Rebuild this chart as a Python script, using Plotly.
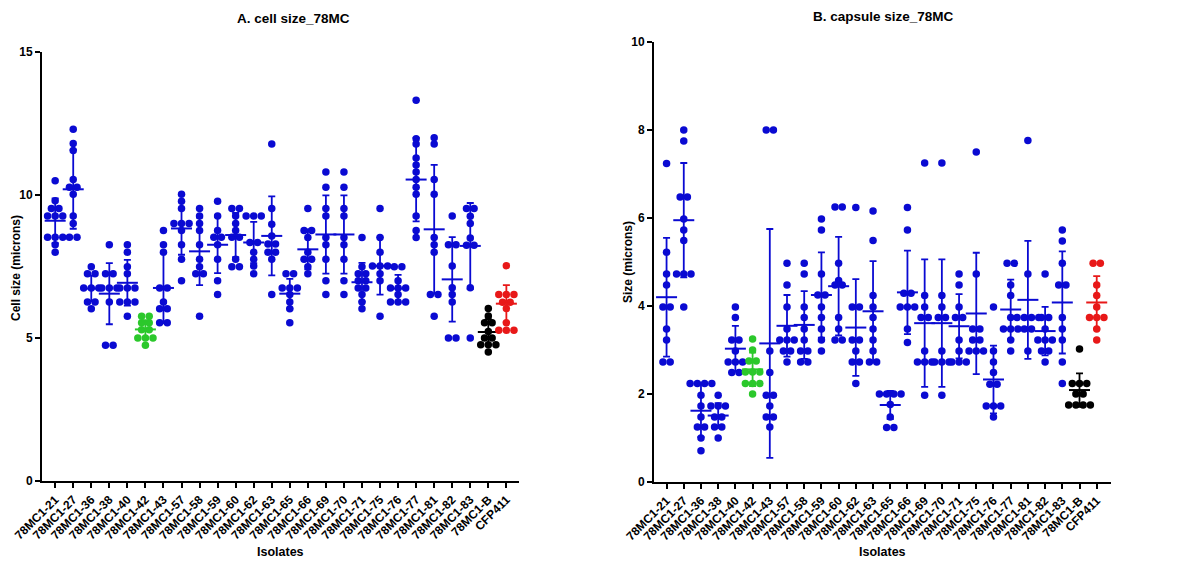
import plotly.graph_objects as go
from collections import Counter

# page is offset by the default 8px body margin
OFF = 8
W, H = 1191 - OFF, 563 - OFF

isolates = ["78MC1-21", "78MC1-27", "78MC1-36", "78MC1-38", "78MC1-40", "78MC1-42",
            "78MC1-43", "78MC1-57", "78MC1-58", "78MC1-59", "78MC1-60", "78MC1-62",
            "78MC1-63", "78MC1-65", "78MC1-66", "78MC1-69", "78MC1-70", "78MC1-71",
            "78MC1-75", "78MC1-76", "78MC1-77", "78MC1-81", "78MC1-82", "78MC1-83",
            "78MC1-B", "CFP411"]

# Panel A: cell size (microns)
cell_values = [
    [10.5, 9.8, 9.53, 9.53, 9.27, 9.27, 9.27, 8.52, 8.52, 8.52, 8.26, 8.0],
    [12.3, 11.8, 11.56, 10.54, 10.27, 10.27, 10.03, 9.27, 9.0, 8.52, 8.52],
    [7.49, 7.25, 7.25, 6.75, 6.75, 6.75, 6.26, 6.26, 6.02],
    [8.26, 7.25, 7.25, 6.75, 6.75, 6.75, 6.26, 4.75, 4.75],
    [8.26, 8.0, 7.49, 7.25, 6.75, 6.75, 6.75, 6.26, 6.26, 6.26, 5.76],
    [5.76, 5.76, 5.53, 5.53, 5.29, 5.29, 5.0, 5.0, 5.0, 4.75],
    [8.76, 8.26, 8.0, 6.75, 6.75, 6.26, 6.02, 6.02, 5.53, 5.53],
    [10.03, 9.78, 9.53, 9.0, 9.0, 9.0, 8.76, 8.26, 7.75, 7.0],
    [9.53, 9.27, 9.0, 8.76, 8.26, 7.75, 7.49, 7.25, 7.25, 5.76],
    [9.78, 9.27, 8.76, 8.52, 8.52, 8.26, 7.75, 7.0, 6.52],
    [9.53, 9.53, 9.27, 9.0, 8.76, 8.52, 8.52, 7.75, 7.49, 7.49],
    [9.27, 9.27, 9.27, 8.34, 8.34, 8.0, 7.75, 7.52, 7.25],
    [11.78, 9.53, 8.98, 8.57, 8.29, 8.29, 8.0, 8.0, 7.75, 6.52],
    [7.25, 7.25, 6.75, 6.75, 6.75, 6.52, 6.26, 6.02, 5.53],
    [9.53, 8.76, 8.76, 8.51, 8.0, 7.75, 7.75, 7.49, 7.25],
    [10.8, 10.27, 9.53, 9.27, 8.51, 8.26, 7.75, 7.0, 6.52],
    [10.8, 10.27, 9.53, 9.27, 8.51, 8.26, 7.75, 7.0, 6.52],
    [8.51, 7.49, 7.25, 7.25, 7.0, 7.0, 6.75, 6.75, 6.52, 6.26, 6.02],
    [9.53, 8.51, 8.0, 7.52, 7.52, 7.52, 7.25, 7.0, 5.76],
    [7.49, 7.49, 7.0, 6.75, 6.75, 6.75, 6.52, 6.26, 6.26, 6.26],
    [13.31, 11.97, 11.78, 11.29, 11.05, 10.8, 10.54, 10.27, 10.03, 9.27, 8.76, 8.51],
    [12.0, 11.78, 10.54, 10.03, 8.51, 8.26, 8.0, 6.52, 6.52, 5.76],
    [9.27, 8.26, 8.26, 7.52, 6.76, 6.52, 6.26, 5.0, 5.0],
    [9.53, 9.53, 9.26, 9.0, 8.5, 8.24, 8.24, 6.76, 5.0],
    [6.03, 5.77, 5.53, 5.53, 5.23, 5.0, 5.0, 4.76, 4.76, 4.76, 4.51],
    [7.53, 6.52, 6.52, 6.52, 6.25, 6.25, 6.03, 5.53, 5.27, 5.27, 5.27],
]
cell_mean = [9.1, 10.2, 6.73, 6.55, 6.93, 5.3, 6.75, 8.83, 8.03, 8.26, 8.6, 8.34, 8.57,
             6.55, 8.1, 8.62, 8.62, 6.95, 7.52, 6.73, 10.54, 8.8, 7.05, 8.22, 5.21, 6.2]
cell_sd = [0.78, 1.38, 0.45, 1.07, 0.8, 0.32, 1.23, 0.92, 1.18, 0.99, 0.77, 0.72, 1.38,
           0.52, 0.7, 1.37, 1.37, 0.68, 1.0, 0.48, 1.46, 2.25, 1.48, 1.5, 0.45, 0.65]

# Panel B: capsule size (microns)
cap_values = [
    [7.24, 5.22, 4.73, 4.48, 3.98, 3.98, 3.48, 3.23, 2.73, 2.73],
    [8.0, 7.75, 6.48, 6.48, 5.98, 5.73, 5.49, 4.73, 4.73, 4.73, 3.98],
    [2.24, 2.24, 2.24, 2.24, 1.97, 1.73, 1.48, 1.25, 1.25, 1.0, 0.71],
    [1.97, 1.73, 1.73, 1.73, 1.48, 1.48, 1.25, 1.25, 1.0],
    [3.98, 3.74, 3.23, 3.23, 2.98, 2.73, 2.73, 2.73, 2.49, 2.49],
    [3.25, 3.0, 2.75, 2.75, 2.5, 2.5, 2.5, 2.24, 2.24, 2.24, 2.0],
    [8.0, 8.0, 2.98, 2.49, 1.97, 1.97, 1.73, 1.48, 1.48, 1.25],
    [4.97, 4.48, 3.98, 3.48, 3.23, 3.23, 3.23, 2.98, 2.98, 2.73],
    [4.97, 4.73, 3.98, 3.74, 3.48, 3.23, 2.98, 2.98, 2.73, 2.73],
    [5.98, 5.73, 4.73, 4.25, 4.25, 3.98, 3.74, 3.48, 3.23, 2.98],
    [6.25, 6.25, 4.97, 4.58, 4.48, 4.48, 3.74, 3.48, 3.23, 3.23],
    [6.24, 3.98, 3.98, 3.23, 3.23, 2.98, 2.73, 2.73, 2.24],
    [6.16, 5.49, 4.24, 3.98, 3.74, 3.48, 3.23, 2.98, 2.73, 2.73],
    [2.0, 2.0, 2.0, 2.0, 1.76, 1.48, 1.24, 1.24],
    [6.24, 5.73, 4.29, 4.29, 3.98, 3.98, 3.98, 3.48, 3.17],
    [7.25, 4.24, 3.98, 3.74, 3.74, 2.98, 2.73, 2.73, 2.73, 1.97],
    [7.25, 4.24, 3.98, 3.74, 3.74, 2.98, 2.73, 2.73, 2.73, 1.97],
    [4.73, 4.48, 3.98, 3.74, 3.74, 3.23, 2.98, 2.73, 2.73, 2.73],
    [7.5, 4.73, 3.48, 3.48, 3.23, 3.23, 2.98, 2.98, 2.98],
    [3.98, 2.98, 2.73, 2.49, 2.22, 2.22, 1.73, 1.73, 1.73, 1.48],
    [4.97, 4.97, 4.48, 4.24, 3.74, 3.48, 3.48, 3.48, 3.23, 2.98],
    [7.76, 4.73, 3.74, 3.74, 3.74, 3.74, 3.48, 3.48, 2.98],
    [4.73, 3.74, 3.74, 3.48, 3.23, 3.23, 3.23, 2.98, 2.98, 2.73],
    [5.73, 5.48, 4.97, 4.48, 4.48, 3.74, 3.48, 3.23, 2.73, 2.24],
    [3.02, 2.24, 2.24, 2.24, 2.0, 2.0, 1.75, 1.75, 1.75, 1.75],
    [4.97, 4.97, 4.48, 4.24, 3.98, 3.74, 3.74, 3.74, 3.48, 3.23],
]
cap_mean = [4.2, 5.95, 1.62, 1.51, 3.03, 2.56, 3.15, 3.55, 3.57, 4.25, 4.45, 3.51, 3.88,
            1.75, 4.31, 3.61, 3.61, 3.54, 3.83, 2.33, 3.92, 4.14, 3.43, 4.08, 2.09, 4.08]
cap_sd = [1.35, 1.3, 0.6, 0.28, 0.52, 0.38, 2.6, 0.7, 0.77, 0.97, 1.12, 1.1, 1.14,
          0.32, 0.95, 1.45, 1.45, 0.73, 1.38, 0.77, 0.68, 1.34, 0.55, 1.16, 0.38, 0.6]

BLUE = "#0a0ad2"
GREEN = "#2bc82b"
BLACK = "#000000"
RED = "#e81818"


def group_color(name):
    if name == "78MC1-42":
        return GREEN
    if name == "78MC1-B":
        return BLACK
    if name == "CFP411":
        return RED
    return BLUE


def spread(vals, step=0.42):
    """Horizontal offsets so identical values sit side by side."""
    counts = Counter(vals)
    seen = Counter()
    offs = []
    for v in vals:
        k = counts[v]
        offs.append((seen[v] - (k - 1) / 2) * step)
        seen[v] += 1
    return offs


fig = go.Figure()


def add_panel(values, means, sds, xa, ya):
    for i, name in enumerate(isolates):
        col = group_color(name)
        vals = values[i]
        offs = spread(vals)
        fig.add_trace(go.Scatter(
            x=[i + o for o in offs], y=vals, mode="markers",
            marker=dict(color=col, size=7.5, line=dict(width=0)),
            xaxis=xa, yaxis=ya, showlegend=False, hoverinfo="y"))
        fig.add_trace(go.Scatter(
            x=[i], y=[means[i]], mode="markers",
            marker=dict(symbol="line-ew", size=15, color=col, line=dict(width=2, color=col)),
            error_y=dict(type="data", array=[sds[i]], symmetric=True, color=col,
                         thickness=1.8, width=3.5),
            xaxis=xa, yaxis=ya, showlegend=False, hoverinfo="y"))


add_panel(cell_values, cell_mean, cell_sd, "x", "y")
add_panel(cap_values, cap_mean, cap_sd, "x2", "y2")

FONT = "Liberation Sans, Arial, sans-serif"
tickfont = dict(family=FONT, size=12, color="black", weight="bold")

common_x = dict(tickmode="array", tickvals=list(range(len(isolates))), ticktext=isolates,
                tickangle=-45, ticks="outside", ticklen=5, tickwidth=1.5, tickcolor="black",
                showline=True, linewidth=2, linecolor="black", showgrid=False,
                zeroline=False, tickfont=tickfont, automargin=False)
common_y = dict(ticks="outside", ticklen=5, tickwidth=1.5, tickcolor="black",
                showline=True, linewidth=2, linecolor="black", showgrid=False,
                zeroline=False, tickfont=tickfont, automargin=False)


def px_x(p):
    return (p - OFF) / W


def px_y(p):
    return (H - (p - OFF)) / H


fig.update_layout(
    template="none",
    width=W, height=H,
    margin=dict(l=0, r=0, t=0, b=0, pad=0),
    paper_bgcolor="white", plot_bgcolor="white",
    xaxis=dict(domain=[px_x(42), px_x(519)], range=[-0.73, 25.7], anchor="y", **common_x),
    yaxis=dict(domain=[px_y(481), px_y(52)], range=[0, 15],
               tickvals=[0, 5, 10, 15], anchor="x", **common_y),
    xaxis2=dict(domain=[px_x(654), px_x(1111)], range=[-0.73, 25.83], anchor="y2", **common_x),
    yaxis2=dict(domain=[px_y(482), px_y(42)], range=[0, 10],
                tickvals=[0, 2, 4, 6, 8, 10], anchor="x2", **common_y),
)


def ann(text, x, y, size, angle=0):
    fig.add_annotation(text=text, x=px_x(x), y=px_y(y), xref="paper", yref="paper",
                       showarrow=False, textangle=angle, xanchor="center", yanchor="middle",
                       font=dict(family=FONT, size=size, color="black", weight="bold"))


ann("A. cell size_78MC", 293, 18, 13.5)
ann("B. capsule size_78MC", 883, 17, 13.5)
ann("Isolates", 280, 552, 12.5)
ann("Isolates", 882, 552, 12.5)
ann("Cell size (microns)", 16, 268, 12, -90)
ann("Size (microns)", 628, 262, 12, -90)

fig.write_html("out.html")
